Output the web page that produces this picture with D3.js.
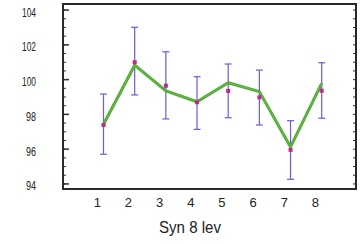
<!DOCTYPE html>
<html>
<head>
<meta charset="utf-8">
<script src="https://cdn.jsdelivr.net/npm/d3@7"></script>
<style>
  body { margin: 0; background: #fff; }
  text { font-family: "Liberation Sans", Arial, sans-serif; fill: #222; }
</style>
</head>
<body>
<div id="chart"></div>
<script>
var levels = [1, 2, 3, 4, 5, 6, 7, 8];
var means  = [97.36, 100.97, 99.62, 98.67, 99.32, 98.95, 95.93, 99.33];
var fitLine = [97.4, 100.8, 99.32, 98.7, 99.79, 99.28, 96.1, 99.76];
var upper  = [99.14, 102.98, 101.57, 100.14, 100.87, 100.52, 97.61, 100.94];
var lower  = [95.68, 99.09, 97.71, 97.11, 97.78, 97.36, 94.24, 97.75];
var yTicks = [94, 96, 98, 100, 102, 104];
var xLabel = 'Syn 8 lev';

var width = 363, height = 244;
var plotLeft = 63, plotRight = 356, plotTop = 4, plotBottom = 189;
var shift = 0.2; // points sit a bit right of the tick labels

var svg = d3.select('#chart').append('svg')
    .attr('width', width)
    .attr('height', height);

var x = d3.scaleLinear().domain([-0.1, 9.3]).range([plotLeft, plotRight]);
var y = d3.scaleLinear().domain([93.68, 104.32]).range([plotBottom, plotTop]);

var rows = levels.map(function(d, i){
    return {lev: d, mean: means[i], fit: fitLine[i], hi: upper[i], lo: lower[i]};
});

// minor ticks every 0.5 on left and right sides
var minor = d3.range(94, 104.01, 0.5);
svg.append('g')
    .attr('transform', 'translate(' + plotLeft + ',0)')
    .call(d3.axisRight(y).tickValues(minor).tickSize(3).tickFormat(''))
    .call(function(g){ g.select('.domain').remove(); })
    .selectAll('line').attr('stroke', '#333');
svg.append('g')
    .attr('transform', 'translate(' + plotLeft + ',0)')
    .call(d3.axisRight(y).tickValues(yTicks).tickSize(6).tickFormat(''))
    .call(function(g){ g.select('.domain').remove(); })
    .selectAll('line').attr('stroke', '#333').attr('stroke-width', 1.5);
svg.append('g')
    .attr('transform', 'translate(' + plotRight + ',0)')
    .call(d3.axisLeft(y).tickValues(minor).tickSize(3).tickFormat(''))
    .call(function(g){ g.select('.domain').remove(); })
    .selectAll('line').attr('stroke', '#333');

// y labels
svg.append('g').selectAll('text')
    .data(yTicks)
    .enter()
    .append('text')
    .attr('x', 36)
    .attr('y', function(d){ return y(d) + 7; })
    .attr('text-anchor', 'end')
    .attr('font-size', 12.5)
    .attr('textLength', function(d){ return d >= 100 ? 14 : 10; })
    .attr('lengthAdjust', 'spacingAndGlyphs')
    .text(function(d){ return d; });

// x labels
svg.append('g').selectAll('text')
    .data(levels)
    .enter()
    .append('text')
    .attr('x', function(d){ return x(d); })
    .attr('y', 207)
    .attr('text-anchor', 'middle')
    .attr('font-size', 13)
    .text(function(d){ return d; });

svg.append('text')
    .attr('x', 159)
    .attr('y', 233)
    .attr('font-size', 17)
    .attr('textLength', 62)
    .attr('lengthAdjust', 'spacingAndGlyphs')
    .text(xLabel);

// frame
svg.append('rect')
    .attr('x', plotLeft)
    .attr('y', plotTop)
    .attr('width', plotRight - plotLeft)
    .attr('height', plotBottom - plotTop)
    .attr('fill', 'none')
    .attr('stroke', '#2a2a2a')
    .attr('stroke-width', 2);

// error bars
var bars = svg.append('g').selectAll('g')
    .data(rows)
    .enter()
    .append('g')
    .attr('stroke', '#6e5ad2')
    .attr('stroke-width', 1.2);
bars.append('line')
    .attr('x1', function(d){ return x(d.lev + shift); })
    .attr('x2', function(d){ return x(d.lev + shift); })
    .attr('y1', function(d){ return y(d.hi); })
    .attr('y2', function(d){ return y(d.lo); });
bars.selectAll('.cap')
    .data(function(d){ return [[d.lev, d.hi], [d.lev, d.lo]]; })
    .enter()
    .append('line')
    .attr('class', 'cap')
    .attr('x1', function(d){ return x(d[0] + shift) - 3.5; })
    .attr('x2', function(d){ return x(d[0] + shift) + 3.5; })
    .attr('y1', function(d){ return y(d[1]); })
    .attr('y2', function(d){ return y(d[1]); });

// green line
var line = d3.line()
    .x(function(d){ return x(d.lev + shift); })
    .y(function(d){ return y(d.fit); });
svg.append('path')
    .datum(rows)
    .attr('d', line)
    .attr('fill', 'none')
    .attr('stroke', '#48a838')
    .attr('stroke-width', 3)
    .attr('stroke-linejoin', 'round');
svg.append('path')
    .datum(rows)
    .attr('d', line)
    .attr('fill', 'none')
    .attr('stroke', '#a8d040')
    .attr('stroke-width', 0.8)
    .attr('opacity', 0.6);

// means
svg.append('g').selectAll('rect')
    .data(rows)
    .enter()
    .append('rect')
    .attr('x', function(d){ return x(d.lev + shift) - 2; })
    .attr('y', function(d){ return y(d.mean) - 2; })
    .attr('width', 4)
    .attr('height', 4)
    .attr('fill', '#c2288c');
</script>
</body>
</html>
